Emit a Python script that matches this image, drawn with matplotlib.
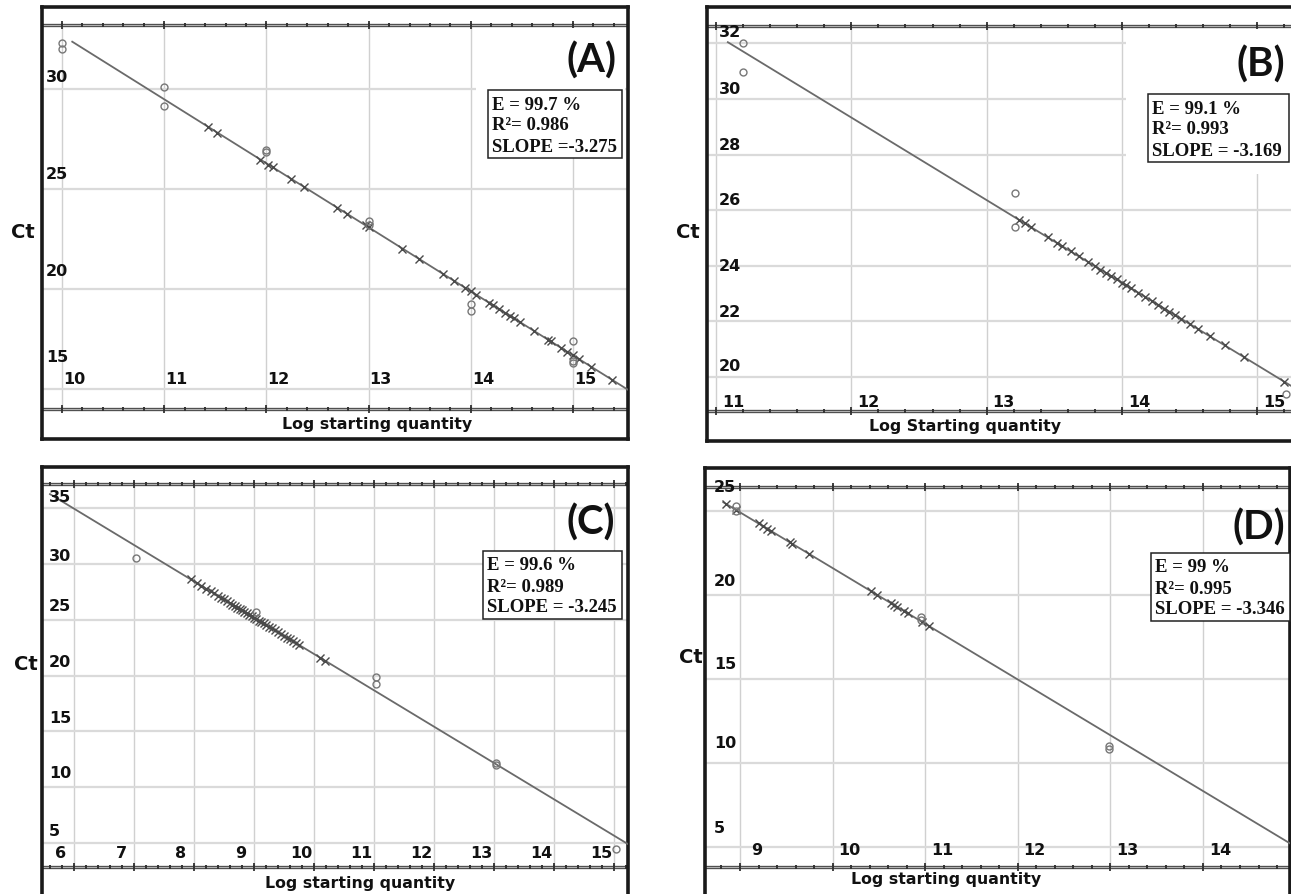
import matplotlib.pyplot as plt
from matplotlib.patches import Rectangle
import numpy as np

W, H = 1291, 895

# ---------------- data ----------------
# (A)
a_cross_x = [11.43, 11.52, 11.94, 12.02, 12.06, 12.24, 12.37, 12.69, 12.79, 12.97,
             13.0, 13.33, 13.49, 13.73, 13.84, 13.94, 14.0, 14.05, 14.18, 14.22,
             14.28, 14.33, 14.38, 14.42, 14.48, 14.62, 14.76, 14.78, 14.88, 14.94,
             15.0, 15.06, 15.18, 15.38]
a_cross_ct = [28.08, 27.80, 26.45, 26.20, 26.07, 25.49, 25.08, 24.05, 23.73, 23.16,
              23.06, 22.00, 21.49, 20.72, 20.37, 20.05, 19.86, 19.70, 19.28, 19.16,
              18.97, 18.80, 18.64, 18.52, 18.32, 17.88, 17.43, 17.37, 17.05, 16.85,
              16.66, 16.47, 16.08, 15.44]
a_circ_x = [10.0, 10.0, 11.0, 11.0, 12.0, 12.0, 13.0, 13.0, 14.0, 14.0, 15.0, 15.0, 15.0]
a_circ_ct = [32.28, 31.98, 30.08, 29.15, 26.95, 26.85, 23.37, 23.2, 19.25, 18.87,
             17.37, 16.4, 16.3]
a_fit_x = [10.1, 15.54]
a_fit_ct = [32.34, 14.93]
a_xticks = [10, 11, 12, 13, 14, 15]
a_yticks = [30, 25, 20, 15]
a_stats = ["E = 99.7 %", "R\u00b2= 0.986", "SLOPE =-3.275"]

# (B)
b_cross_x = [13.24, 13.28, 13.33, 13.45, 13.52, 13.56, 13.62, 13.68, 13.75, 13.8,
             13.84, 13.88, 13.92, 13.96, 14.0, 14.03, 14.07, 14.12, 14.17, 14.22,
             14.27, 14.31, 14.35, 14.39, 14.44, 14.5, 14.56, 14.65, 14.76, 14.9, 15.2]
b_cross_ct = [25.65, 25.53, 25.38, 25.02, 24.81, 24.70, 24.52, 24.34, 24.13, 23.98,
              23.86, 23.74, 23.63, 23.51, 23.39, 23.30, 23.18, 23.03, 22.88, 22.73,
              22.58, 22.46, 22.35, 22.23, 22.08, 21.90, 21.73, 21.46, 21.13, 20.72, 19.82]
b_circ_x = [11.2, 11.2, 13.21, 13.21, 15.21]
b_circ_ct = [32.0, 30.95, 26.61, 25.40, 19.39]
b_fit_x = [11.087, 15.3]
b_fit_ct = [32.04, 19.53]
b_xticks = [11, 12, 13, 14, 15]
b_yticks = [32, 30, 28, 26, 24, 22, 20]
b_stats = ["E = 99.1 %", "R\u00b2= 0.993", "SLOPE = -3.169"]

# (C)
c_cross_x = [7.95, 8.05, 8.12, 8.2, 8.28, 8.33, 8.4, 8.45, 8.5, 8.55, 8.6, 8.64,
             8.68, 8.72, 8.76, 8.8, 8.84, 8.88, 8.92, 8.96, 9.0, 9.04, 9.08, 9.12,
             9.16, 9.2, 9.25, 9.3, 9.35, 9.4, 9.45, 9.5, 9.55, 9.6, 9.65, 9.7, 9.75,
             10.1, 10.18]
c_cross_ct = [28.61, 28.28, 28.06, 27.80, 27.54, 27.37, 27.15, 26.98, 26.82, 26.66,
              26.49, 26.36, 26.23, 26.10, 25.97, 25.84, 25.71, 25.58, 25.45, 25.32,
              25.19, 25.06, 24.93, 24.80, 24.67, 24.54, 24.38, 24.22, 24.05, 23.89,
              23.73, 23.56, 23.40, 23.24, 23.08, 22.91, 22.75, 21.61, 21.35]
c_circ_x = [7.04, 9.03, 11.03, 11.03, 13.03, 13.03, 15.03]
c_circ_ct = [30.51, 25.67, 19.85, 19.25, 12.14, 12.0, 4.46]
c_fit_x = [5.6, 15.23]
c_fit_ct = [36.26, 4.91]
c_xticks = [6, 7, 8, 9, 10, 11, 12, 13, 14, 15]
c_yticks = [35, 30, 25, 20, 15, 10, 5]
c_stats = ["E = 99.6 %", "R\u00b2= 0.989", "SLOPE = -3.245"]

# (D)
d_cross_x = [8.85, 8.96, 9.2, 9.25, 9.29, 9.34, 9.54, 9.56, 9.74, 10.41, 10.48,
             10.63, 10.66, 10.7, 10.77, 10.81, 10.97, 11.04]
d_cross_ct = [25.40, 25.04, 24.24, 24.08, 23.94, 23.78, 23.12, 23.05, 22.45, 20.24,
              20.01, 19.51, 19.41, 19.28, 19.05, 18.91, 18.38, 18.15]
d_circ_x = [8.96, 8.96, 10.96, 10.96, 12.98, 12.98]
d_circ_ct = [25.3, 25.0, 18.7, 18.5, 11.03, 10.83]
d_fit_x = [8.82, 14.95]
d_fit_ct = [25.5, 5.2]
d_xticks = [9, 10, 11, 12, 13, 14]
d_yticks = [25, 20, 15, 10, 5]
d_stats = ["E = 99 %", "R\u00b2= 0.995", "SLOPE = -3.346"]


def fx(px):
    return px / W


def fy(py):
    return 1 - py / H


fig = plt.figure(figsize=(W / 100, H / 100), dpi=100)
fig.patch.set_facecolor('white')

SANS = 'DejaVu Sans'


def panel(frame, xlim, ylim, band, xticks, yticks, cx, cct, ox, oct_, fitx, fitct,
          xlab_off, ylab_dx, ylab_dy):
    l, t, r, b = frame
    ax = fig.add_axes([fx(l), fy(b), (r - l) / W, (b - t) / H])
    ax.set_xlim(xlim)
    ax.set_ylim(ylim)
    ax.set_xticks([])
    ax.set_yticks([])
    for s in ax.spines.values():
        s.set_linewidth(2.6)
        s.set_color('#1a1a1a')
    top, bot = band
    # grid
    ax.vlines(xticks, bot, top, color='#d0d0d0', lw=1.0, zorder=1)
    ax.hlines(yticks, xlim[0], xlim[1], color='#dadada', lw=1.6, zorder=1)
    # double rules with tick marks
    minor = np.arange(np.ceil(xlim[0] * 5) / 5, xlim[1], 0.2)
    for yy in (top, bot):
        ax.axhline(yy, color='#505050', lw=2.4, zorder=2)
        ax.axhline(yy, color='#c4c4c4', lw=0.6, zorder=2)
        ax.plot(minor, [yy] * len(minor), ls='none', marker='|', ms=3, mew=1.4,
                color='#333333', zorder=2)
        ax.plot(xticks, [yy] * len(xticks), ls='none', marker='|', ms=6, mew=1.3,
                color='#333333', zorder=2)
    # fit line and points
    ax.plot(fitx, fitct, color='#6a6a6a', lw=1.3, zorder=3)
    ax.plot(cx, cct, ls='none', marker='x', ms=5.5, mew=1.0, color='#4a4a4a', zorder=4)
    ax.plot(ox, oct_, ls='none', marker='o', ms=5, mfc='none', mec='#777777', mew=1.0,
            zorder=4)
    # tick labels drawn inside the frame
    for v in xticks:
        ax.annotate(str(v), (v, bot), xytext=xlab_off, textcoords='offset pixels',
                    ha='center', va='center', fontsize=11.5, fontweight='bold',
                    family=SANS, color='#111111', annotation_clip=False)
    for v, dy in zip(yticks, ylab_dy):
        ax.annotate(str(v), (xlim[0], v), xytext=(ylab_dx, dy), textcoords='offset pixels',
                    ha='left', va='center', fontsize=11.5, fontweight='bold',
                    family=SANS, color='#111111', annotation_clip=False)
    return ax


def stats_box(box, lines, blank=None):
    l, t, r, b = box
    if blank is not None:
        bl, bt, br, bb = blank
        fig.add_artist(Rectangle((fx(bl), fy(bb)), (br - bl) / W, (bb - bt) / H,
                                 transform=fig.transFigure, fc='white', ec='none',
                                 zorder=1))
    fig.add_artist(Rectangle((fx(l), fy(b)), (r - l) / W, (b - t) / H,
                             transform=fig.transFigure, fc='white', ec='#222222',
                             lw=1.1, zorder=2))
    for i, s in enumerate(lines):
        fig.text(fx(l + 4), fy(t + 14 + 21 * i), s, family='Liberation Serif',
                 fontweight='bold', fontsize=13.5, va='center', ha='left',
                 color='#111111', zorder=3)


# (A)
panel((42, 8, 628, 440), (9.804, 15.538), (12.475, 34.075), (33.175, 13.975),
      a_xticks, a_yticks, a_cross_x, a_cross_ct, a_circ_x, a_circ_ct,
      a_fit_x, a_fit_ct, (12, 30), 4, [12, 15, 18, 32])
# (B)
panel((707, 8, 1300, 442), (10.933, 15.316), (17.694, 33.306), (32.62, 18.77),
      b_xticks, b_yticks, b_cross_x, b_cross_ct, b_circ_x, b_circ_ct,
      b_fit_x, b_fit_ct, (17, 10), 12, [12, 10, 10, 11, 0, 10, 11])
# (C)
panel((42, 468, 628, 905), (5.467, 15.233), (-0.466, 38.69), (37.17, 2.85),
      c_xticks, c_yticks, c_cross_x, c_cross_ct, c_circ_x, c_circ_ct,
      c_fit_x, c_fit_ct, (-13, 14), 7, [12, 8, 14, 14, 14, 15, 12])
# (D)
panel((705, 469, 1290, 905), (8.622, 14.94), (1.631, 27.537), (26.41, 3.81),
      d_xticks, d_yticks, d_cross_x, d_cross_ct, d_circ_x, d_circ_ct,
      d_fit_x, d_fit_ct, (17, 18), 9, [24, 14, 15, 21, 20])

stats_box((488, 91, 622, 159), a_stats, blank=(476, 29, 625, 159))
stats_box((1148, 95, 1289, 163), b_stats, blank=(1126, 30, 1291, 175))
stats_box((483, 552, 622, 620), c_stats)
stats_box((1151, 554, 1290, 622), d_stats)

# axis titles
for (x, y) in [(23, 233), (688, 233), (26, 665), (691, 658)]:
    fig.text(fx(x), fy(y), "Ct", family=SANS, fontweight='bold', fontsize=14,
             ha='center', va='center', color='#111111')
for (x, y, s) in [(377, 425, "Log starting quantity"), (965, 427, "Log Starting quantity"),
                  (360, 884, "Log starting quantity"), (946, 880, "Log starting quantity")]:
    fig.text(fx(x), fy(y), s, family=SANS, fontweight='bold', fontsize=11.3,
             ha='center', va='center', color='#111111')

# panel letters
fig.text(fx(591), fy(61), "(A)", family='Lato', fontweight='bold', fontsize=29,
         ha='center', va='center', color='#111111', zorder=3)
fig.text(fx(1237), fy(65), "(B)", family='Lato', fontweight='bold', fontsize=29,
         ha='left', va='center', color='#111111', zorder=3)
fig.text(fx(591), fy(523), "(C)", family='Lato', fontweight='bold', fontsize=29,
         ha='center', va='center', color='#111111', zorder=3)
fig.text(fx(1233), fy(528), "(D)", family='Lato', fontweight='bold', fontsize=29,
         ha='left', va='center', color='#111111', zorder=3)

fig.savefig('out.png', dpi=100)
